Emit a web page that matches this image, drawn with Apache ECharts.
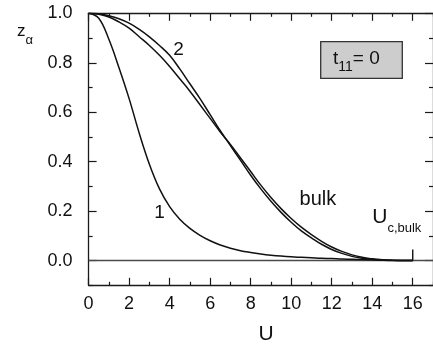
<!DOCTYPE html>
<html><head><meta charset="utf-8">
<script src="https://cdn.jsdelivr.net/npm/echarts@6/dist/echarts.min.js"></script>
<style>html,body{margin:0;padding:0;background:#fff}#c{width:433px;height:347px}</style>
</head><body><div id="c"></div>
<script>
const U = [0,0.5,1,1.5,2,2.5,3,3.5,4,4.5,5,5.5,6,6.5,7,7.5,8,8.5,9,9.5,10,10.5,11,11.5,12,12.5,13,13.5,14,14.5,15,15.5,16];
const curve1 = [1.0,0.98,0.895,0.78,0.655,0.515,0.39,0.29,0.218,0.167,0.13,0.102,0.08,0.063,0.05,0.04,0.033,0.027,0.022,0.018,0.015,0.013,0.011,0.009,0.008,0.006,0.005,0.004,0.003,0.002,0.001,0.0005,0];
const curve2 = [1.0,0.998,0.99,0.978,0.96,0.935,0.905,0.87,0.83,0.775,0.715,0.655,0.59,0.525,0.465,0.405,0.345,0.29,0.24,0.195,0.155,0.12,0.092,0.066,0.045,0.029,0.017,0.009,0.004,0.002,0.0005,0,0];
const bulk = [1.0,0.996,0.985,0.965,0.94,0.905,0.87,0.83,0.785,0.735,0.685,0.63,0.575,0.52,0.47,0.415,0.36,0.305,0.255,0.21,0.17,0.135,0.105,0.078,0.055,0.037,0.023,0.013,0.007,0.003,0.001,0.0002,0];
const xMajor = [0,2,4,6,8,10,12,14,16];
const xMinor = [1,3,5,7,9,11,13,15,17];
const yMajor = [0,0.2,0.4,0.6,0.8,1.0];
const yMinor = [-0.1,0.1,0.3,0.5,0.7,0.9];
const ucX = [16,16];
const ucY = [0,0.045];
const zeroX = [0,17];
const zeroY = [0,0];

const FONT = "'Liberation Sans', Arial, Helvetica, sans-serif";
const AX = '#1a1a1a';
const chart = echarts.init(document.getElementById('c'), null, {renderer:'canvas'});

function xAx(pos, vals, len, showLine, showLabel){
  return {type:'value', position:pos, min:0, max:17, interval:1,
    axisLine:{show:showLine, onZero:false, lineStyle:{color:AX, width:1.3}},
    axisTick:{show:true, inside:true, length:len, customValues:vals, lineStyle:{color:AX, width:1.2}},
    axisLabel:{show:showLabel, customValues:vals, margin:10, fontSize:18, color:'#111', fontFamily:FONT},
    splitLine:{show:false}};
}
function yAx(pos, vals, len, showLine, showLabel){
  return {type:'value', position:pos, min:-0.1, max:1.0, interval:0.1,
    axisLine:{show:showLine, onZero:false, lineStyle:{color:AX, width:1.3}},
    axisTick:{show:true, inside:true, length:len, customValues:vals, lineStyle:{color:AX, width:1.2}},
    axisLabel:{show:showLabel, customValues:vals, margin:16, fontSize:18, color:'#111', fontFamily:FONT,
      formatter:v=>v.toFixed(1)},
    splitLine:{show:false}};
}
const zip = (a,b)=>a.map((v,i)=>[v,b[i]]);
const lineS = (data, color, width, smooth)=>({type:'line', xAxisIndex:0, yAxisIndex:0, data, symbol:'none', smooth:smooth,
  lineStyle:{color, width}, silent:true, animation:false});

chart.setOption({
  animation:false,
  grid:{left:88.6, top:13.3, width:346.1, height:272},
  xAxis:[xAx('bottom', xMajor, 7.5, true, true), xAx('bottom', xMinor, 3.5, false, false),
         xAx('top', xMajor, 7.5, true, false), xAx('top', xMinor, 3.5, false, false)],
  yAxis:[yAx('left', yMajor, 8, true, true), yAx('left', yMinor, 4, false, false),
         yAx('right', yMajor, 8, true, false), yAx('right', yMinor, 4, false, false)],
  series:[
    lineS(zip(zeroX, zeroY), '#4a4a4a', 1.6, false),
    lineS(zip(U, curve1), '#111', 1.5, 0.4),
    lineS(zip(U, curve2), '#111', 1.5, 0.4),
    lineS(zip(U, bulk), '#111', 1.5, 0.4),
    lineS(zip(ucX, ucY), '#111', 1.4, false)
  ]
});

const px = (u,z)=>chart.convertToPixel({xAxisIndex:0, yAxisIndex:0}, [u,z]);
const p1 = px(3.5, 0.193), p2 = px(4.44, 0.852), pb = px(11.32, 0.247), pu = px(14.0, 0.175);
const txt = (x,y,text,size,align)=>({type:'text', x, y, style:{text, fontSize:size, fontFamily:FONT, fill:'#111', align:align||'center', verticalAlign:'middle'}});
chart.setOption({graphic:[
  txt(p1[0], p1[1], '1', 19),
  txt(p2[0], p2[1], '2', 19),
  txt(pb[0], pb[1], 'bulk', 20),
  {type:'text', x:pu[0], y:pu[1], style:{text:'{m|U}{s|c,bulk}', fontFamily:FONT, fill:'#111', align:'left', verticalAlign:'middle',
    rich:{m:{fontSize:21, lineHeight:34.6, verticalAlign:'middle', fontFamily:FONT, fill:'#111'},
          s:{fontSize:13, lineHeight:13, verticalAlign:'bottom', fontFamily:FONT, fill:'#111'}}}},
  txt(266, 334, 'U', 21),
  {type:'text', x:17, y:31.7, style:{text:'{m|z}{s|α}', fontFamily:FONT, fill:'#111', align:'left', verticalAlign:'middle',
    rich:{m:{fontSize:17, lineHeight:30.4, verticalAlign:'middle', fontFamily:FONT, fill:'#111'},
          s:{fontSize:13, lineHeight:13, verticalAlign:'bottom', fontFamily:FONT, fill:'#111'}}}},
  {type:'rect', shape:{x:320.7, y:41.7, width:81.6, height:36.6}, style:{fill:'#cdcdcd', stroke:'#333', lineWidth:1.3}},
  {type:'text', x:333, y:58.3, style:{text:'{m|t}{s|11}{m|= 0}', fontFamily:FONT, fill:'#111', align:'left', verticalAlign:'middle',
    rich:{m:{fontSize:19, lineHeight:31, verticalAlign:'middle', fontFamily:FONT, fill:'#111'},
          s:{fontSize:14, lineHeight:14, verticalAlign:'bottom', fontFamily:FONT, fill:'#111'}}}}
]});
</script></body></html>
